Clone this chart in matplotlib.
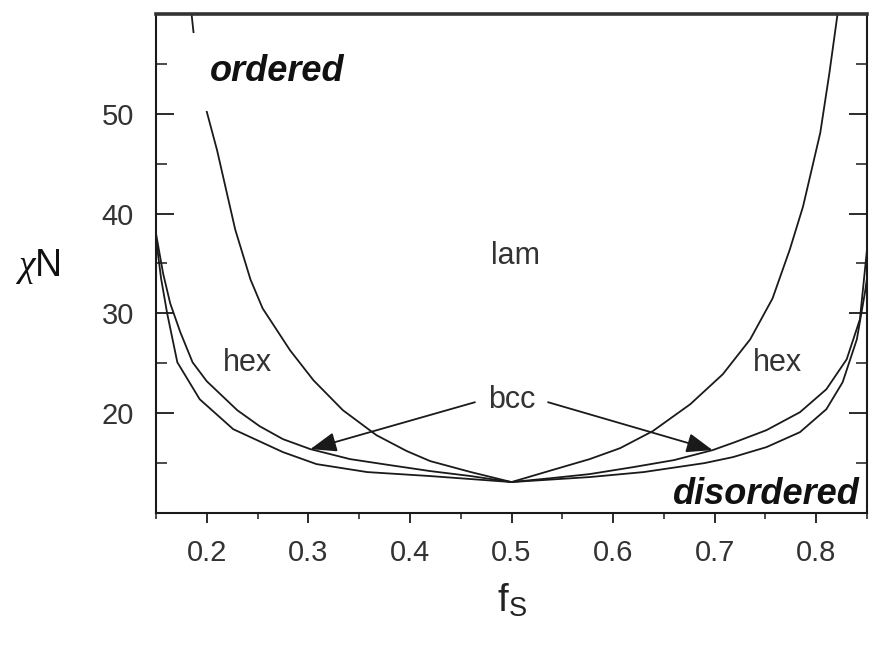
import matplotlib
matplotlib.use("Agg")
import matplotlib.pyplot as plt

plt.rcParams["font.family"] = ["Liberation Sans", "DejaVu Sans"]
plt.rcParams["mathtext.fontset"] = "custom"
plt.rcParams["mathtext.rm"] = "Liberation Sans"
plt.rcParams["mathtext.it"] = "Liberation Serif:italic"

# lam / hex boundary
lam_x = [0.185, 0.187, 0.200, 0.210, 0.228, 0.243, 0.255, 0.282, 0.305, 0.334,
         0.367, 0.397, 0.420, 0.460, 0.500, 0.540, 0.577, 0.607, 0.639, 0.676,
         0.708, 0.735, 0.757, 0.774, 0.787, 0.804, 0.813, 0.821]
lam_y = [60.0, 58.1, 50.2, 46.4, 38.4, 33.4, 30.5, 26.3, 23.3, 20.3,
         17.8, 16.2, 15.2, 14.1, 13.1, 14.3, 15.4, 16.5, 18.2, 20.9,
         23.9, 27.4, 31.5, 36.4, 40.7, 48.1, 54.1, 60.0]

# hex / bcc boundary
hb_x = [0.150, 0.157, 0.164, 0.174, 0.186, 0.200, 0.230, 0.252, 0.275, 0.302,
        0.341, 0.380, 0.420, 0.460, 0.500, 0.540, 0.577, 0.620, 0.660, 0.698,
        0.720, 0.751, 0.784, 0.810, 0.830, 0.843, 0.851]
hb_y = [38.0, 34.0, 31.0, 28.1, 25.1, 23.2, 20.3, 18.7, 17.4, 16.4,
        15.4, 14.8, 14.2, 13.7, 13.1, 13.5, 13.9, 14.6, 15.3, 16.3,
        17.1, 18.3, 20.1, 22.4, 25.4, 29.4, 37.4]

# order-disorder transition
odt_x = [0.150, 0.155, 0.161, 0.171, 0.193, 0.226, 0.275, 0.308, 0.358, 0.420,
         0.460, 0.500, 0.577, 0.630, 0.690, 0.718, 0.751, 0.784, 0.810, 0.826,
         0.840, 0.848, 0.852]
odt_y = [37.5, 33.5, 30.0, 25.1, 21.4, 18.4, 16.1, 14.9, 14.1, 13.7,
         13.4, 13.1, 13.6, 14.1, 15.0, 15.6, 16.6, 18.1, 20.4, 23.1,
         27.4, 32.1, 35.0]

x_ticks = [0.2, 0.3, 0.4, 0.5, 0.6, 0.7, 0.8]
y_ticks = [20, 30, 40, 50]

fig = plt.figure(figsize=(8.69, 6.46), dpi=100)
ax = fig.add_axes([156 / 869, 1 - 513 / 646, 711 / 869, 499 / 646])

line_kw = dict(color="#1a1a1a", lw=1.3)
ax.plot(lam_x, lam_y, **line_kw)
ax.plot(hb_x, hb_y, **line_kw)
ax.plot(odt_x, odt_y, **line_kw)

ax.set_xlim(0.15, 0.85)
ax.set_ylim(10, 60)
ax.set_xticks(x_ticks)
ax.set_xticks([0.15, 0.25, 0.35, 0.45, 0.55, 0.65, 0.75, 0.85], minor=True)
ax.set_yticks(y_ticks)
ax.set_yticks([15, 25, 35, 45, 55], minor=True)
ax.set_xticklabels([f"{v:.1f}" for v in x_ticks])

ax.tick_params(axis="x", which="both", direction="out", colors="#1a1a1a",
               labelcolor="#333333", labelsize=21, pad=12)
ax.tick_params(axis="x", which="major", length=7, width=1.3)
ax.tick_params(axis="x", which="minor", length=4, width=1.1)
ax.tick_params(axis="y", which="both", direction="in", right=True,
               colors="#1a1a1a", labelcolor="#333333", labelsize=21, pad=16)
ax.tick_params(axis="y", which="major", length=13, width=1.3)
ax.tick_params(axis="y", which="minor", length=8, width=1.1)

for side in ["left", "bottom", "right"]:
    ax.spines[side].set_linewidth(1.5)
    ax.spines[side].set_color("#1a1a1a")
ax.spines["top"].set_linewidth(2.6)
ax.spines["top"].set_color("#333333")

# region labels
ax.text(0.203, 54.2, "ordered", fontsize=26, fontweight="bold", style="italic",
        ha="left", va="center", color="#111111", zorder=5,
        bbox=dict(boxstyle="square,pad=0.6", fc="white", ec="none"))
ax.text(0.843, 11.9, "disordered", fontsize=26, fontweight="bold", style="italic",
        ha="right", va="center", color="#111111")
ax.text(0.504, 35.8, "lam", fontsize=22, ha="center", va="center", color="#333333")
ax.text(0.240, 25.0, "hex", fontsize=22, ha="center", va="center", color="#333333")
ax.text(0.762, 25.0, "hex", fontsize=22, ha="center", va="center", color="#333333")
ax.text(0.500, 21.3, "bcc", fontsize=22, ha="center", va="center", color="#333333")

arrow_kw = dict(arrowstyle="-|>,head_length=0.8,head_width=0.3", color="#1a1a1a",
                lw=1.3, mutation_scale=20, shrinkA=0, shrinkB=0)
ax.annotate("", xy=(0.302, 16.4), xytext=(0.464, 21.1), arrowprops=arrow_kw)
ax.annotate("", xy=(0.698, 16.3), xytext=(0.536, 21.1), arrowprops=arrow_kw)

# axis labels
fig.text(512 / 869, 1 - 600 / 646, r"f$_{\mathrm{S}}$", fontsize=28,
         ha="center", va="center", color="#222222")
fig.text(38 / 869, 1 - 266 / 646, r"$\chi$N", fontsize=27,
         ha="center", va="center", color="#111111")

fig.savefig("out.png", dpi=100)
